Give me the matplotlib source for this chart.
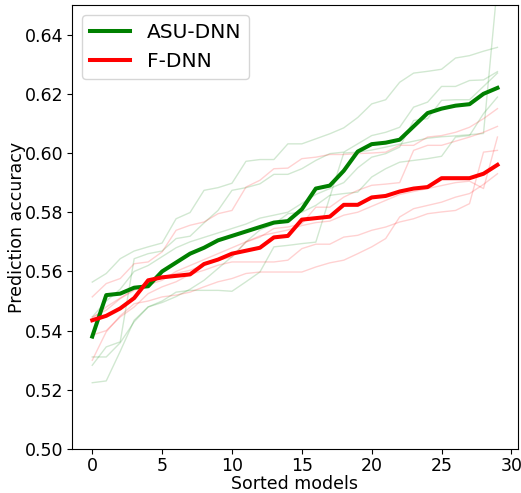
import matplotlib
matplotlib.use("Agg")
import matplotlib.pyplot as plt
import numpy as np

models = np.arange(30)

# mean curves
asu_dnn = [0.5380, 0.5520, 0.5525, 0.5545, 0.5550, 0.5600, 0.5630, 0.5660, 0.5680, 0.5705,
           0.5720, 0.5735, 0.5750, 0.5765, 0.5770, 0.5810, 0.5880, 0.5890, 0.5940, 0.6005,
           0.6030, 0.6035, 0.6045, 0.6090, 0.6135, 0.6150, 0.6160, 0.6165, 0.6200, 0.6220]
f_dnn = [0.5435, 0.5450, 0.5475, 0.5510, 0.5570, 0.5580, 0.5585, 0.5590, 0.5625, 0.5640,
         0.5660, 0.5670, 0.5680, 0.5715, 0.5720, 0.5775, 0.5780, 0.5785, 0.5825, 0.5825,
         0.5850, 0.5855, 0.5870, 0.5880, 0.5885, 0.5915, 0.5915, 0.5915, 0.5930, 0.5960]

# individual runs (faint)
asu_runs = [
    [0.5564, 0.5593, 0.5643, 0.5669, 0.5683, 0.5696, 0.5778, 0.5799, 0.5874, 0.5883,
     0.5898, 0.5972, 0.5978, 0.5978, 0.6031, 0.6031, 0.6048, 0.6065, 0.6085, 0.6120,
     0.6166, 0.6180, 0.6239, 0.6270, 0.6276, 0.6283, 0.6321, 0.6329, 0.6344, 0.6357],
    [0.5283, 0.5345, 0.5362, 0.5643, 0.5660, 0.5669, 0.5711, 0.5719, 0.5764, 0.5806,
     0.5874, 0.5883, 0.5896, 0.5928, 0.5928, 0.5947, 0.5975, 0.5998, 0.6003, 0.6031,
     0.6059, 0.6070, 0.6087, 0.6155, 0.6172, 0.6225, 0.6225, 0.6245, 0.6247, 0.6275],
    [0.5446, 0.5500, 0.5540, 0.5600, 0.5620, 0.5650, 0.5680, 0.5700, 0.5715, 0.5730,
     0.5745, 0.5760, 0.5780, 0.5790, 0.5800, 0.5830, 0.5860, 0.5880, 0.5900, 0.5950,
     0.5986, 0.5998, 0.6020, 0.6110, 0.6116, 0.6178, 0.6180, 0.6180, 0.6225, 0.6270],
    [0.5311, 0.5311, 0.5359, 0.5430, 0.5480, 0.5495, 0.5515, 0.5540, 0.5570, 0.5610,
     0.5650, 0.5700, 0.5740, 0.5760, 0.5795, 0.5800, 0.5823, 0.5857, 0.5863, 0.5868,
     0.5919, 0.5947, 0.5969, 0.5975, 0.5981, 0.5989, 0.6054, 0.6059, 0.6133, 0.6189],
    [0.5224, 0.5230, 0.5330, 0.5435, 0.5480, 0.5500, 0.5530, 0.5536, 0.5536, 0.5536,
     0.5533, 0.5565, 0.5598, 0.5683, 0.5688, 0.5694, 0.5699, 0.5851, 0.6000, 0.6003,
     0.6010, 0.6020, 0.6030, 0.6040, 0.6050, 0.6055, 0.6058, 0.6062, 0.6066, 0.6570],
]
fdnn_runs = [
    [0.5514, 0.5559, 0.5576, 0.5626, 0.5632, 0.5666, 0.5739, 0.5756, 0.5767, 0.5795,
     0.5806, 0.5885, 0.5908, 0.5947, 0.5949, 0.5981, 0.5986, 0.5995, 0.5995, 0.5998,
     0.6000, 0.6003, 0.6026, 0.6026, 0.6054, 0.6059, 0.6070, 0.6087, 0.6116, 0.6150],
    [0.5446, 0.5469, 0.5508, 0.5536, 0.5559, 0.5581, 0.5593, 0.5604, 0.5621, 0.5638,
     0.5649, 0.5699, 0.5716, 0.5745, 0.5750, 0.5761, 0.5817, 0.5817, 0.5851, 0.5874,
     0.5891, 0.5895, 0.5900, 0.6009, 0.6026, 0.6026, 0.6040, 0.6054, 0.6070, 0.6090],
    [0.5385, 0.5400, 0.5446, 0.5480, 0.5525, 0.5548, 0.5565, 0.5590, 0.5604, 0.5621,
     0.5632, 0.5632, 0.5632, 0.5632, 0.5638, 0.5677, 0.5692, 0.5692, 0.5716, 0.5722,
     0.5739, 0.5750, 0.5767, 0.5778, 0.5795, 0.5801, 0.5806, 0.5829, 0.6003, 0.6009],
    [0.5300, 0.5396, 0.5450, 0.5491, 0.5500, 0.5514, 0.5520, 0.5530, 0.5548, 0.5565,
     0.5576, 0.5593, 0.5598, 0.5598, 0.5598, 0.5598, 0.5615, 0.5629, 0.5638, 0.5660,
     0.5683, 0.5711, 0.5784, 0.5812, 0.5823, 0.5834, 0.5851, 0.5863, 0.5894, 0.5930],
    [0.5440, 0.5480, 0.5510, 0.5540, 0.5555, 0.5570, 0.5600, 0.5620, 0.5640, 0.5660,
     0.5680, 0.5700, 0.5720, 0.5730, 0.5740, 0.5755, 0.5765, 0.5770, 0.5790, 0.5800,
     0.5820, 0.5840, 0.5860, 0.5870, 0.5880, 0.5890, 0.5900, 0.5905, 0.5880, 0.6054],
]

fig = plt.figure(figsize=(5.21, 4.93), dpi=100)
ax = fig.add_axes([0.1382, 0.0892, 0.8555, 0.9006])

for run in asu_runs:
    ax.plot(models, run, color="green", alpha=0.18, linewidth=1.0)
for run in fdnn_runs:
    ax.plot(models, run, color="red", alpha=0.18, linewidth=1.0)

ax.plot(models, asu_dnn, color="green", linewidth=2.9, label="ASU-DNN")
ax.plot(models, f_dnn, color="red", linewidth=2.9, label="F-DNN")

ax.set_ylim(0.50, 0.65)
ax.set_yticks([0.50, 0.52, 0.54, 0.56, 0.58, 0.60, 0.62, 0.64])
ax.set_xticks([0, 5, 10, 15, 20, 25, 30])
ax.tick_params(labelsize=12.5, pad=2.5)
ax.set_xlabel("Sorted models", fontsize=12.5, labelpad=0)
ax.set_ylabel("Prediction accuracy", fontsize=12.5, labelpad=-1)
ax.legend(loc="upper left", fontsize=14.5)

fig.savefig("out.png", dpi=100)
